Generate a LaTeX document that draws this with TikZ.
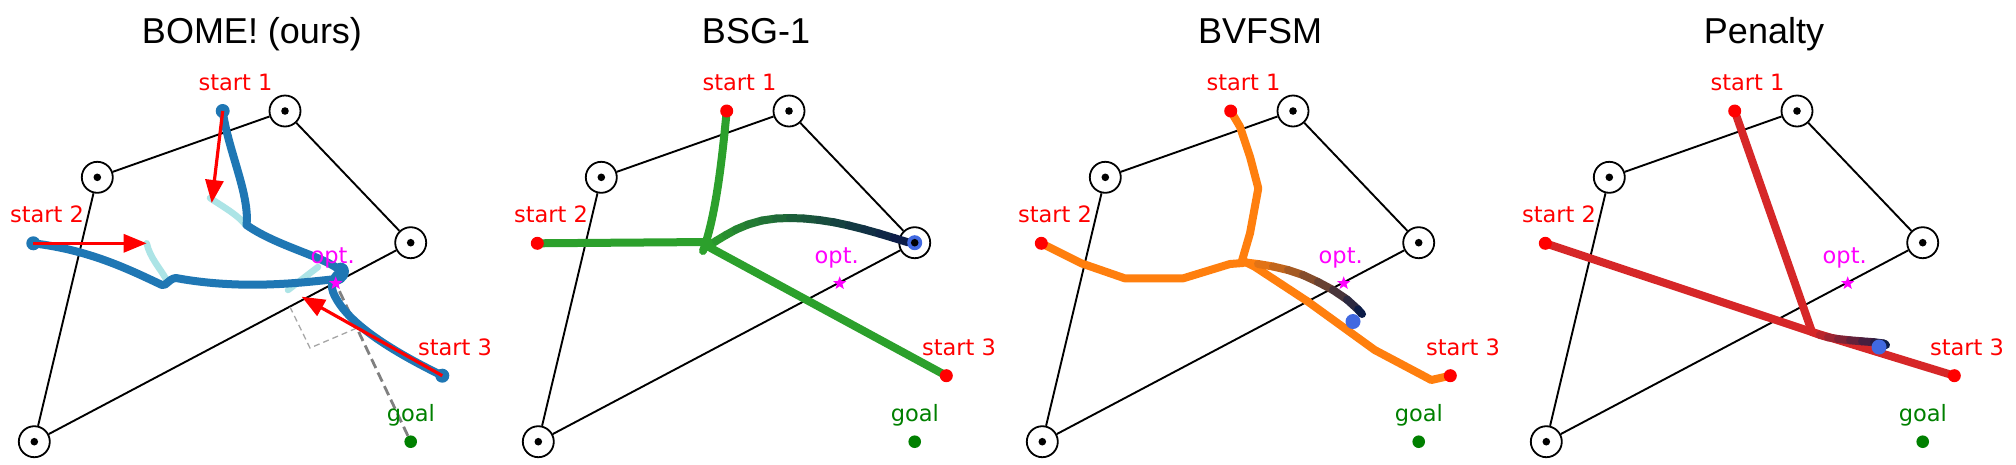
\documentclass[tikz,border=0pt]{standalone}
\usepackage{fontspec}
\setmainfont{DejaVu Sans}
\newfontfamily\titlefont{Liberation Sans}
\usetikzlibrary{arrows.meta,shapes.geometric}
\definecolor{tabblue}{RGB}{31,119,180}
\definecolor{tabgreen}{RGB}{44,160,44}
\definecolor{taborange}{RGB}{255,127,14}
\definecolor{tabred}{RGB}{214,39,40}
\definecolor{lcyan}{RGB}{172,228,230}
\definecolor{endnavy}{RGB}{12,28,72}
\definecolor{royal}{RGB}{65,105,225}
\definecolor{goalgreen}{RGB}{0,128,0}
\definecolor{mag}{RGB}{255,0,255}
\definecolor{pure red}{RGB}{255,0,0}
\tikzset{
  vert/.style={circle,draw=black,fill=white,line width=1.8pt,minimum size=31pt,inner sep=0pt},
  edge/.style={line width=1.9pt,black},
  lab/.style={font=\fontsize{22.5}{27}\selectfont,anchor=base,inner sep=0pt},
  ttl/.style={font=\titlefont\fontsize{36}{43}\selectfont,anchor=base,inner sep=0pt},
  traj/.style={line width=8pt,line cap=round,line join=round},
  cyantraj/.style={line width=6.5pt,line cap=round,line join=round,lcyan},
  dotnode/.style={circle,inner sep=0pt,minimum size=12.6pt},
  enddot/.style={circle,inner sep=0pt,minimum size=15pt,fill=royal},
  optstar/.style={star,star points=5,star point ratio=2.4,fill=mag,inner sep=0pt,minimum size=14pt},
  redarrow/.style={line width=3.2pt,pure red,-{Triangle[length=23pt,width=18pt]}},
  thickdash/.style={line width=2.8pt,gray,dash pattern=on 10pt off 5pt},
  thindash/.style={line width=1.3pt,gray!70,dash pattern=on 6pt off 4pt},
}
\newcommand\gradpath[3]{%
  \foreach \p [count=\i] in {#3}{\xdef\gradN{\i}}%
  \foreach \p [count=\i, remember=\p as \q] in {#3}{%
    \ifnum\i>1
      \pgfmathtruncatemacro\c{100*(\i-2)/(\gradN-2)}%
      \draw[traj,draw=#2!\c!#1] \q -- \p;
    \fi}%
}
\newcommand\panelback[1]{%
  \node[vert] (v1#1) at (97.3,177.3) {};
  \node[vert] (v2#1) at (285,111) {};
  \node[vert] (v3#1) at (410.7,242.7) {};
  \node[vert] (v4#1) at (34.3,441.7) {};
  \draw[edge] (v1#1) -- (v2#1) -- (v3#1) -- (v4#1) -- (v1#1);
  \coordinate (s1#1) at (222.7,111);
  \coordinate (s2#1) at (33.3,243.3);
  \coordinate (s3#1) at (442.3,375.7);
  \coordinate (opt#1) at (335.7,283.3);
  \node[dotnode,fill=goalgreen] (goal#1) at (410.7,441.7) {};
}
\newcommand\panelfront[2]{%
  \foreach \v in {v1,v2,v3,v4} \fill (\v#1) circle[radius=3.8pt];
  \node[optstar] (star#1) at (opt#1) {};
  \node[lab,text=mag] (optl#1) at (332.7,263) {opt.};
  \node[lab,text=goalgreen] (goall#1) at (410.8,421.7) {goal};
  \node[lab,text=pure red] (s1l#1) at (235.5,90.7) {start 1};
  \node[lab,text=pure red] (s2l#1) at (47,222.7) {start 2};
  \node[lab,text=pure red] (s3l#1) at (455,355) {start 3};
  \node[ttl] (title#1) at (252,43.3) {#2};
}
\begin{document}
\begin{tikzpicture}[x=1pt,y=-1pt]
\useasboundingbox[fill=white] (0,0) rectangle (2016,464);
% ---------------- BOME
\begin{scope}
\panelback{A}
\draw[thindash] (290,307) -- (310,348) -- (357,328);
\draw[thickdash] (goalA) -- (optA);
\draw[cyantraj] (210,198) .. controls (225,208) and (238,215) .. (246.5,226);
\draw[cyantraj] (146.7,243.3) .. controls (150,258) and (160,268) .. (166,279);
\draw[cyantraj] (288,290) -- (318,267);
\draw[traj,tabblue] (s1A) .. controls (228,150) and (250,195) .. (246.5,225)
   .. controls (275,245) and (318,255) .. (337,268)
   .. controls (346,262) and (349,277) .. (337,281);
\draw[traj,tabblue] (s2A) .. controls (90,250) and (130,270) .. (162,285)
   .. controls (167,286) and (168,279) .. (176,278)
   .. controls (240,290) and (300,283) .. (336,279);
\draw[traj,tabblue] (s3A) .. controls (390,350) and (345,322) .. (333,292)
   .. controls (330,283) and (334,276) .. (341,271);
\foreach \s in {s1A,s2A,s3A} \fill[tabblue] (\s) circle[radius=7pt];
\coordinate (a1A) at (211.7,203);
\coordinate (a2A) at (146.7,243.3);
\coordinate (a3A) at (301.7,296.7);
\draw[redarrow] (s1A) -- (a1A);
\draw[redarrow] (s2A) -- (a2A);
\draw[redarrow] (s3A) -- (a3A);
\panelfront{A}{BOME! (ours)}
\end{scope}
% ---------------- BSG-1
\begin{scope}[xshift=504pt]
\panelback{B}
\coordinate (jB) at (203,246);
\draw[traj,tabgreen] (s1B) .. controls (218,160) and (212,215) .. (199,251);
\draw[traj,tabgreen] (s2B) -- (205,242);
\draw[traj,tabgreen] (s3B) -- (jB);
\gradpath{tabgreen}{endnavy}{(203,247),(212,241),(222,235),(232,229.5),(244,224.5),(258,220.5),(272,218.5),(286,218),(300,218.5),(315,220),(330,222.3),(345,225.5),(360,229.3),(375,233.5),(390,238),(404,242.3)}
\node[enddot] (endB) at (v3B) {};
\foreach \s in {s1B,s2B,s3B} \fill[pure red] (\s) circle[radius=6.5pt];
\panelfront{B}{BSG-1}
\end{scope}
% ---------------- BVFSM
\begin{scope}[xshift=1008pt]
\panelback{C}
\draw[traj,taborange] (s1C) -- (232,126.7) -- (242,156.7) -- (250.3,188.3) -- (242,233.3) -- (233.7,261.7);
\draw[traj,taborange] (s2C) -- (73.3,263.3) -- (116.7,278.3) -- (175.3,278.3) -- (222,264) -- (235,263);
\draw[traj,taborange] (s3C) -- (423.3,380) -- (366.7,350) -- (300,301.7) -- (246.7,266.7) -- (236.7,261.7);
\gradpath{taborange}{endnavy}{(234,262),(250,264),(265,266.5),(280,270),(295,275),(310,282),(325,290),(339,299.5),(350,309.5),(354,314)}
\node[enddot] (endC) at (345,321.5) {};
\foreach \s in {s1C,s2C,s3C} \fill[pure red] (\s) circle[radius=6.5pt];
\panelfront{C}{BVFSM}
\end{scope}
% ---------------- Penalty
\begin{scope}[xshift=1512pt]
\panelback{D}
\coordinate (jD) at (300,332);
\draw[traj,tabred] (s1D) -- (jD);
\draw[traj,tabred] (s2D) -- (jD);
\draw[traj,tabred] (s3D) -- (jD);
\gradpath{tabred}{endnavy}{(300,332),(308,335),(316,337.3),(326,339),(338,340.3),(350,341.3),(362,342.2),(372,343.5),(374,345)}
\node[enddot] (endD) at (367,347) {};
\foreach \s in {s1D,s2D,s3D} \fill[pure red] (\s) circle[radius=6.5pt];
\panelfront{D}{Penalty}
\end{scope}
\end{tikzpicture}
\end{document}
